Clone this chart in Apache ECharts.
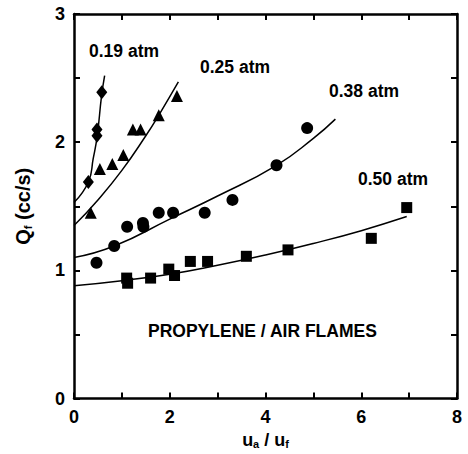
<!DOCTYPE html>
<html>
<head>
<meta charset="utf-8">
<script src="https://cdn.jsdelivr.net/npm/echarts@6/dist/echarts.min.js"></script>
<style>
  html, body { margin: 0; padding: 0; background: #fff; }
  #chart { width: 468px; height: 454px; }
</style>
</head>
<body>
<div id="chart"></div>
<script>
// measured points, [ua/uf, Qf]
var diamonds019 = [[0.30, 1.69], [0.48, 2.10], [0.48, 2.05], [0.58, 2.39]];
var triangles025 = [[0.35, 1.45], [0.54, 1.79], [0.80, 1.83], [1.03, 1.90], [1.23, 2.10], [1.39, 2.10], [1.77, 2.21], [2.15, 2.36]];
var circles038 = [[0.47, 1.06], [0.84, 1.19], [1.11, 1.34], [1.44, 1.37], [1.45, 1.34], [1.77, 1.45], [2.07, 1.45], [2.73, 1.45], [3.31, 1.55], [4.23, 1.82], [4.87, 2.11]];
var squares050 = [[1.10, 0.94], [1.12, 0.90], [1.60, 0.94], [1.98, 1.01], [2.10, 0.96], [2.43, 1.07], [2.79, 1.07], [3.60, 1.11], [4.47, 1.16], [6.21, 1.25], [6.95, 1.49]];

// fitted curves
var curve019 = [[0, 1.53], [0.30, 1.69], [0.40, 1.87], [0.485, 2.05], [0.575, 2.36], [0.64, 2.52]];
var curve025 = [[0, 1.35], [0.5, 1.55], [1.0, 1.78], [1.5, 2.05], [1.77, 2.21], [2.18, 2.47]];
var curve038 = [[0, 1.10], [0.84, 1.19], [2.0, 1.40], [3.0, 1.58], [4.23, 1.82], [5.0, 2.03], [5.46, 2.18]];
var curve050 = [[0, 0.88], [1, 0.92], [2, 0.97], [3, 1.04], [4, 1.12], [5, 1.21], [6, 1.31], [6.95, 1.42]];

var xTicks = [0, 2, 4, 6, 8];
var yTicks = [0, 1, 2, 3];

var font = 'Liberation Sans, Arial, sans-serif';
var chart = echarts.init(document.getElementById('chart'), null, { renderer: 'svg' });

function axisBase() {
  return {
    axisLine: { show: true, onZero: false, lineStyle: { color: '#000', width: 2.5 } },
    axisTick: { show: true, inside: true, length: 6, lineStyle: { color: '#000', width: 2 } },
    splitLine: { show: false }
  };
}

function curve(data) {
  return {
    type: 'line', data: data, smooth: true, showSymbol: false, symbol: 'none',
    lineStyle: { color: '#000', width: 1.5 }, z: 2, silent: true
  };
}

function pts(data, symbol, size) {
  return {
    type: 'scatter', data: data, symbol: symbol, symbolSize: size,
    itemStyle: { color: '#000', opacity: 1 }, z: 3
  };
}

var label = function(text, x, y) {
  return {
    type: 'text', left: x, top: y,
    style: { text: text, font: 'bold 17.5px ' + font, fill: '#000' }
  };
};

function nameRich(size) {
  return {
    b: { fontFamily: font, fontWeight: 'bold', fontSize: size, color: '#000' },
    s: { fontFamily: font, fontWeight: 'bold', fontSize: 11, color: '#000', verticalAlign: 'bottom', padding: [8, 0, 0, 0] }
  };
}

chart.setOption({
  animation: false,
  grid: { left: 74, right: 11, top: 14, bottom: 54 },
  xAxis: [
    Object.assign(axisBase(), {
      type: 'value', min: 0, max: 8, interval: 1, position: 'bottom',
      name: '{b|u}{s|a}{b| / u}{s|f}', nameLocation: 'middle', nameGap: 28,
      nameTextStyle: { rich: nameRich(18) },
      axisLabel: {
        margin: 9, color: '#000', fontFamily: font, fontWeight: 'bold', fontSize: 18,
        formatter: function(v) { return xTicks.indexOf(v) >= 0 ? String(v) : ''; }
      }
    }),
    Object.assign(axisBase(), {
      type: 'value', min: 0, max: 8, interval: 1, position: 'top',
      axisLabel: { show: false }
    })
  ],
  yAxis: [
    Object.assign(axisBase(), {
      type: 'value', min: 0, max: 3, interval: 0.5, position: 'left',
      name: '{b|Q}{s|f}{b| (cc/s)}', nameLocation: 'middle', nameGap: 41, nameRotate: 90,
      nameTextStyle: { rich: nameRich(20) },
      axisLabel: {
        margin: 9, color: '#000', fontFamily: font, fontWeight: 'bold', fontSize: 18,
        formatter: function(v) { return yTicks.indexOf(v) >= 0 ? String(v) : ''; }
      }
    }),
    Object.assign(axisBase(), {
      type: 'value', min: 0, max: 3, interval: 0.5, position: 'right',
      axisLabel: { show: false }
    })
  ],
  graphic: [
    label('0.19 atm', 89, 42),
    label('0.25 atm', 200, 58),
    label('0.38 atm', 329, 82),
    label('0.50 atm', 358, 170),
    label('PROPYLENE / AIR FLAMES', 148, 322)
  ],
  series: [
    curve(curve019), curve(curve025), curve(curve038), curve(curve050),
    pts(diamonds019, 'diamond', [11, 14]),
    pts(triangles025, 'triangle', 12),
    pts(circles038, 'circle', 12),
    pts(squares050, 'rect', 11)
  ]
});
</script>
</body>
</html>
